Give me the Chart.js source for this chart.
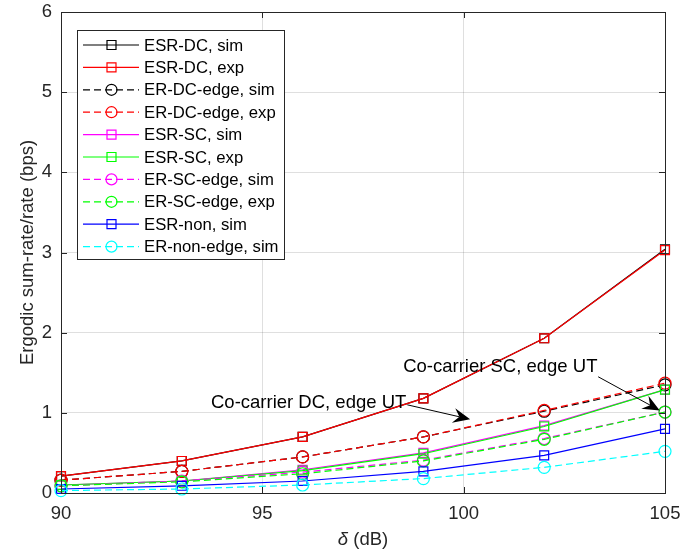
<!DOCTYPE html>
<html>
<head>
<meta charset="utf-8">
<script src="https://cdn.jsdelivr.net/npm/chart.js@4/dist/chart.umd.min.js"></script>
<style>
html,body{margin:0;padding:0;background:#fff;}
#wrap{width:684px;height:551px;position:relative;}
</style>
</head>
<body>
<div id="wrap"><canvas id="c" width="684" height="551"></canvas></div>
<script>
// ---- data ----
const deltaDb = [90, 93, 96, 99, 102, 105];
const esrDcSim      = [0.21, 0.40, 0.70, 1.18, 1.93, 3.04];
const esrDcExp      = [0.21, 0.40, 0.70, 1.18, 1.93, 3.03];
const erDcEdgeSim   = [0.16, 0.27, 0.45, 0.70, 1.02, 1.35];
const erDcEdgeExp   = [0.16, 0.27, 0.45, 0.70, 1.03, 1.37];
const esrScSim      = [0.10, 0.15, 0.29, 0.50, 0.84, 1.29];
const esrScExp      = [0.10, 0.15, 0.28, 0.49, 0.83, 1.29];
const erScEdgeSim   = [0.09, 0.15, 0.26, 0.41, 0.68, 1.01];
const erScEdgeExp   = [0.09, 0.14, 0.24, 0.40, 0.67, 1.01];
const esrNonSim     = [0.05, 0.09, 0.15, 0.27, 0.47, 0.80];
const erNonEdgeSim  = [0.03, 0.05, 0.10, 0.18, 0.32, 0.52];
const seriesLabels = ['ESR-DC, sim','ESR-DC, exp','ER-DC-edge, sim','ER-DC-edge, exp','ESR-SC, sim','ESR-SC, exp','ER-SC-edge, sim','ER-SC-edge, exp','ESR-non, sim','ER-non-edge, sim'];
const xTicks = [90, 95, 100, 105];
const yTicks = [0, 1, 2, 3, 4, 5, 6];
const annotations = [
  {text: 'Co-carrier DC, edge UT', tx: 96.15, ty: 1.12, from: [98.6, 1.10], to: [100.16, 0.92]},
  {text: 'Co-carrier SC, edge UT', tx: 100.91, ty: 1.57, from: [103.34, 1.45], to: [104.87, 1.03]}
];

const seriesValues = [esrDcSim, esrDcExp, erDcEdgeSim, erDcEdgeExp, esrScSim, esrScExp, erScEdgeSim, erScEdgeExp, esrNonSim, erNonEdgeSim];
const colors = ['#000000','#ff0000','#000000','#ff0000','#ff00ff','#00ff00','#ff00ff','#00ff00','#0000ff','#00ffff'];
const dashed = [false,false,true,true,false,false,true,true,false,true];
const FONT = '"Liberation Sans", Arial, Helvetica, sans-serif';
const AXC = '#262626';

const datasets = seriesValues.map((vals, i) => ({
  label: seriesLabels[i],
  data: deltaDb.map((x, k) => ({x: x, y: vals[k]})),
  borderColor: colors[i],
  backgroundColor: colors[i],
  borderWidth: 1.2,
  borderDash: dashed[i] ? [7, 4] : [],
  pointStyle: dashed[i] ? 'circle' : 'rect',
  pointRadius: dashed[i] ? 6 : 6.3,
  pointBorderWidth: 1.2,
  pointBorderColor: colors[i],
  pointBackgroundColor: 'rgba(0,0,0,0)',
  tension: 0,
  fill: false,
  clip: false,
  order: seriesValues.length - i
}));

function drawArrowHead(ctx, x0, y0, x1, y1) {
  const ang = Math.atan2(y1 - y0, x1 - x0);
  const L = 17, W = 7.5, N = 11;
  ctx.save();
  ctx.translate(x1, y1);
  ctx.rotate(ang);
  ctx.beginPath();
  ctx.moveTo(0, 0);
  ctx.lineTo(-L, -W);
  ctx.lineTo(-N, 0);
  ctx.lineTo(-L, W);
  ctx.closePath();
  ctx.fillStyle = '#000';
  ctx.fill();
  ctx.restore();
}

const decor = {
  id: 'decor',
  afterDraw(chart) {
    const ctx = chart.ctx;
    const a = chart.chartArea;
    const xs = chart.scales.x, ys = chart.scales.y;
    ctx.save();
    // box
    ctx.strokeStyle = AXC;
    ctx.lineWidth = 1;
    ctx.setLineDash([]);
    ctx.strokeRect(Math.round(a.left) + 0.5, Math.round(a.top) + 0.5, Math.round(a.right - a.left), Math.round(a.bottom - a.top));
    // inner ticks
    ctx.beginPath();
    xTicks.forEach(v => {
      const px = Math.round(xs.getPixelForValue(v)) + 0.5;
      ctx.moveTo(px, a.bottom); ctx.lineTo(px, a.bottom - 6);
      ctx.moveTo(px, a.top); ctx.lineTo(px, a.top + 6);
    });
    yTicks.forEach(v => {
      const py = Math.round(ys.getPixelForValue(v)) + 0.5;
      ctx.moveTo(a.left, py); ctx.lineTo(a.left + 6, py);
      ctx.moveTo(a.right, py); ctx.lineTo(a.right - 6, py);
    });
    ctx.stroke();

    // axis titles
    ctx.fillStyle = AXC;
    ctx.textBaseline = 'middle';
    const t1 = '\u03b4';
    ctx.font = '18.5px ' + FONT;
    const t2 = ' (dB)';
    const w2 = ctx.measureText(t2).width;
    ctx.font = 'italic 18.5px ' + FONT;
    const w1 = ctx.measureText(t1).width;
    const cx = (a.left + a.right) / 2;
    let sx = cx - (w1 + w2) / 2;
    ctx.textAlign = 'left';
    ctx.fillText(t1, sx, 540);
    ctx.font = '18.5px ' + FONT;
    ctx.fillText(t2, sx + w1, 540);

    ctx.save();
    ctx.translate(28, (a.top + a.bottom) / 2);
    ctx.rotate(-Math.PI / 2);
    ctx.textAlign = 'center';
    ctx.fillText('Ergodic sum-rate/rate (bps)', 0, 0);
    ctx.restore();

    // annotations
    annotations.forEach(an => {
      ctx.fillStyle = '#000';
      ctx.font = '18.5px ' + FONT;
      ctx.textAlign = 'center';
      ctx.textBaseline = 'middle';
      ctx.fillText(an.text, xs.getPixelForValue(an.tx), ys.getPixelForValue(an.ty));
      const x0 = xs.getPixelForValue(an.from[0]), y0 = ys.getPixelForValue(an.from[1]);
      const x1 = xs.getPixelForValue(an.to[0]), y1 = ys.getPixelForValue(an.to[1]);
      ctx.strokeStyle = '#000';
      ctx.lineWidth = 1;
      ctx.beginPath();
      ctx.moveTo(x0, y0);
      const ang = Math.atan2(y1 - y0, x1 - x0);
      ctx.lineTo(x1 - 11 * Math.cos(ang), y1 - 11 * Math.sin(ang));
      ctx.stroke();
      drawArrowHead(ctx, x0, y0, x1, y1);
    });

    // legend
    const lx = 77, ly = 30, lw = 207, lh = 229;
    ctx.fillStyle = '#fff';
    ctx.fillRect(lx, ly, lw, lh);
    ctx.strokeStyle = AXC;
    ctx.lineWidth = 1;
    ctx.strokeRect(lx + 0.5, ly + 0.5, lw, lh);
    chart.data.datasets.forEach((ds, i) => {
      const y = 45 + i * 22.4;
      ctx.strokeStyle = ds.borderColor;
      ctx.lineWidth = 1.2;
      ctx.setLineDash(ds.borderDash);
      ctx.beginPath();
      ctx.moveTo(83, y); ctx.lineTo(139, y);
      ctx.stroke();
      ctx.setLineDash([]);
      ctx.beginPath();
      if (ds.pointStyle === 'circle') {
        ctx.arc(111.5, y, 5.5, 0, Math.PI * 2);
      } else {
        ctx.rect(107, y - 4.5, 9, 9);
      }
      ctx.stroke();
      ctx.fillStyle = '#000';
      ctx.font = '16.7px ' + FONT;
      ctx.textAlign = 'left';
      ctx.textBaseline = 'middle';
      ctx.fillText(ds.label, 144, y + 1);
    });
    ctx.restore();
  }
};

function zeroPad(s) {
  s.paddingTop = 0; s.paddingBottom = 0; s.paddingLeft = 0; s.paddingRight = 0;
}

new Chart(document.getElementById('c'), {
  type: 'line',
  data: {datasets: datasets},
  options: {
    responsive: false,
    animation: false,
    devicePixelRatio: 1,
    layout: {padding: {left: 0, top: 12, right: 19, bottom: 0}},
    plugins: {legend: {display: false}, tooltip: {enabled: false}},
    scales: {
      x: {
        type: 'linear', min: 90, max: 105,
        afterBuildTicks: s => { s.ticks = xTicks.map(v => ({value: v})); },
        afterFit: s => { s.height = 58; zeroPad(s); },
        grid: {color: 'rgba(38,38,38,0.15)', drawTicks: false},
        border: {display: false},
        ticks: {color: AXC, padding: 10, font: {family: FONT, size: 18.5}, maxRotation: 0}
      },
      y: {
        type: 'linear', min: 0, max: 6,
        afterBuildTicks: s => { s.ticks = yTicks.map(v => ({value: v})); },
        afterFit: s => { s.width = 61; zeroPad(s); },
        grid: {color: 'rgba(38,38,38,0.15)', drawTicks: false},
        border: {display: false},
        ticks: {color: AXC, padding: 9, font: {family: FONT, size: 18.5}}
      }
    }
  },
  plugins: [decor]
});
</script>
</body>
</html>
